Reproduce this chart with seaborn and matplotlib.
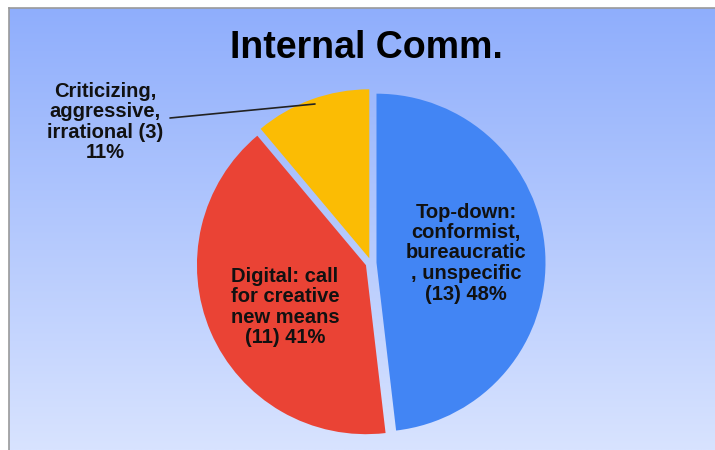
import numpy as np
import matplotlib
matplotlib.use("Agg")
import matplotlib.pyplot as plt
import seaborn as sns

# dati del grafico
title = "Internal Comm."
categories = ["Top-down:\nconformist,\nbureaucratic\n, unspecific",
              "Digital: call\nfor creative\nnew means",
              "Criticizing,\naggressive,\nirrational"]
values = [13, 11, 3]
count_sep = ["\n", "\n", " "]   # separatore prima di "(n)"
pct_sep = [" ", " ", "\n"]      # separatore prima della percentuale
colors = ["#4285F4", "#EA4335", "#FBBC04"]

sns.set_style("white")
plt.rcParams["font.family"] = ["Liberation Sans", "DejaVu Sans"]

fig = plt.figure(figsize=(7.15, 4.5), dpi=100)
fig.patch.set_facecolor("white")

# sfondo sfumato
bg = fig.add_axes([9 / 715, 0, 1 - 9 / 715, 1 - 8 / 450])
top_c = np.array([143, 174, 252]) / 255
bot_c = np.array([216, 227, 255]) / 255
t = np.linspace(0, 1, 256)[:, None]
grad = top_c * (1 - t) + bot_c * t
bg.imshow(grad[:, None, :].repeat(2, axis=1), aspect="auto", extent=[0, 1, 0, 1])
bg.set_xticks([])
bg.set_yticks([])
for s in ["right", "bottom"]:
    bg.spines[s].set_visible(False)
for s in ["left", "top"]:
    bg.spines[s].set_color("#9a9a9a")
    bg.spines[s].set_linewidth(1.2)

# torta, coordinate in pixel
ax = fig.add_axes([0, 0, 1, 1])
pal = sns.color_palette(colors)
# explode in unità dati (pixel), non scalato dal raggio
wedges, _ = ax.pie(values, colors=pal, startangle=90, counterclock=False,
                   center=(371, 187), radius=169, explode=[5.5, 5.5, 5],
                   wedgeprops=dict(linewidth=0), frame=True)
ax.set_xlim(0, 715)
ax.set_ylim(0, 450)
ax.set_aspect("equal")
ax.axis("off")

total = sum(values)
labels = [f"{c}{cs}({v}){ps}{round(v / total * 100)}%"
          for c, v, cs, ps in zip(categories, values, count_sep, pct_sep)]
kw = dict(ha="center", va="center", fontsize=14.5, fontweight="bold",
          color="#111111", linespacing=1.1)
ax.text(466, 450 - 253, labels[0], **kw)
ax.text(285, 450 - 307, labels[1], **kw)
ax.text(105, 450 - 122, labels[2], **kw)
ax.plot([170, 315], [450 - 118, 450 - 104], color="#222222", lw=1.2)

ax.text(366, 450 - 48, title, ha="center", va="center",
        fontsize=27, fontweight="bold", color="black")

fig.savefig("out.png", dpi=100)
